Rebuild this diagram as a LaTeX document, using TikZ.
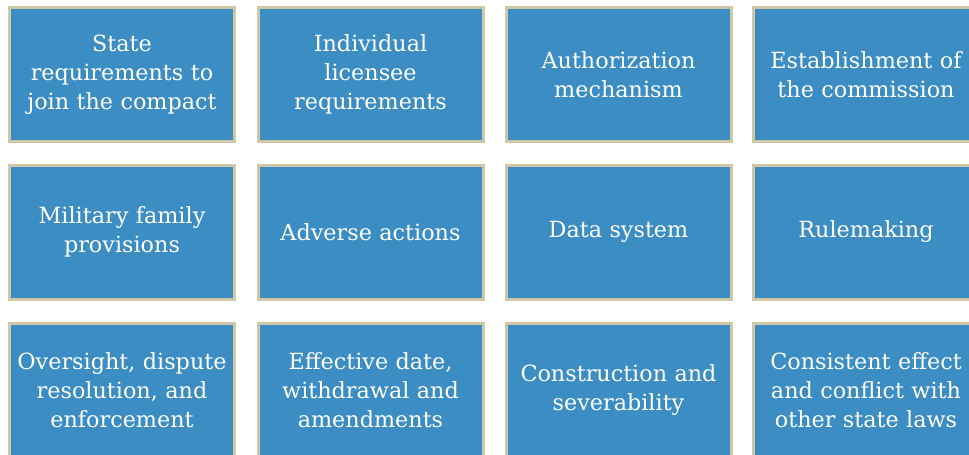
\documentclass[tikz,border=0pt]{standalone}
\usepackage{fontspec}
\setmainfont{DejaVu Serif}
\definecolor{boxblue}{HTML}{3C8DC4}
\definecolor{boxrim}{HTML}{CFC7A6}
\tikzset{
  cell/.style={draw=boxrim, line width=3pt, fill=boxblue, text=white,
    minimum width=225pt, minimum height=134pt, inner sep=0pt,
    align=center, text width=222pt,
    font=\fontsize{22.3}{29}\selectfont}
}
\begin{document}
\begin{tikzpicture}[x=1pt,y=-1pt]
\useasboundingbox (0,0) rectangle (969,455);
\clip (0,0) rectangle (969,455);
\node[cell] (a1) at (122,74.5) {State\\requirements to\\join the compact};
\node[cell] (a2) at (370.5,74.5) {Individual\\licensee\\requirements};
\node[cell] (a3) at (618.5,74.5) {Authorization\\mechanism};
\node[cell] (a4) at (866,74.5) {Establishment of\\the commission};
\node[cell] (b1) at (122,232) {Military family\\provisions};
\node[cell] (b2) at (370.5,232) {Adverse actions};
\node[cell] (b3) at (618.5,232) {Data system};
\node[cell] (b4) at (866,232) {Rulemaking};
\node[cell] (c1) at (122,390) {Oversight, dispute\\resolution, and\\enforcement};
\node[cell] (c2) at (370.5,390) {Effective date,\\withdrawal and\\amendments};
\node[cell] (c3) at (618.5,390) {Construction and\\severability};
\node[cell] (c4) at (866,390) {Consistent effect\\and conflict with\\other state laws};
\end{tikzpicture}
\end{document}
